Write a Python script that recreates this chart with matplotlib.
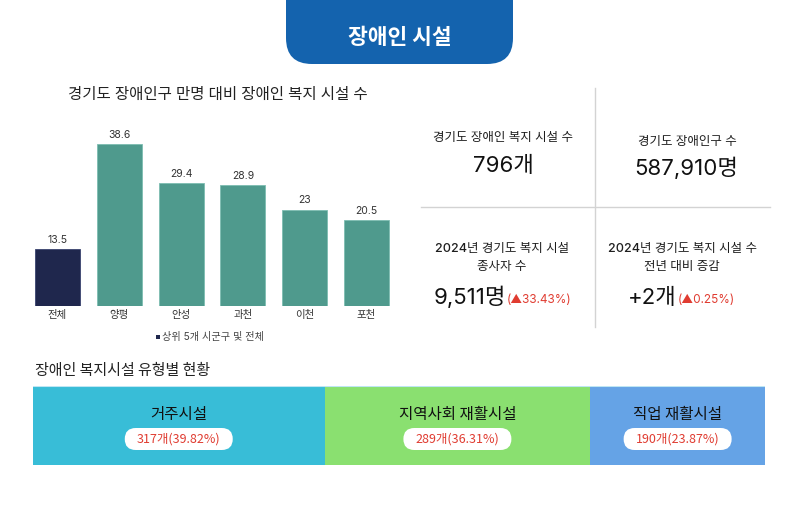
import matplotlib
matplotlib.use("Agg")
import matplotlib.pyplot as plt
from matplotlib.patches import FancyBboxPatch, Rectangle
import numpy as np

plt.rcParams['font.family'] = ['Inter', 'Noto Sans CJK KR', 'DejaVu Sans']
KR = ['Noto Sans CJK KR', 'DejaVu Sans']

# ---------------- data ----------------
categories = ['전체', '양평', '안성', '과천', '이천', '포천']
values = [13.5, 38.6, 29.4, 28.9, 23, 20.5]
bar_colors = ['#1F274D', '#4F9A8D', '#4F9A8D', '#4F9A8D', '#4F9A8D', '#4F9A8D']

type_names = ['거주시설', '지역사회 재활시설', '직업 재활시설']
type_counts = [317, 289, 190]
type_pcts = ['39.82%', '36.31%', '23.87%']
type_colors = ['#38BDD7', '#8AE070', '#65A3E6']

kpi_labels = ['경기도 장애인 복지 시설 수', '경기도 장애인구 수',
              '2024년 경기도 복지 시설\n종사자 수', '2024년 경기도 복지 시설 수\n전년 대비 증감']
kpi_values = ['796개', '587,910명', '9,511명', '+2개']
kpi_changes = ['', '', '(▲33.43%)', '(▲0.25%)']

W, H = 800, 531
fig = plt.figure(figsize=(W / 100, H / 100), dpi=100)
fig.patch.set_facecolor('white')

def fax(l, t, r, b):
    return [l / W, (H - b) / H, (r - l) / W, (b - t) / H]

# background / overlay axes in pixel coordinates
bg = fig.add_axes([0, 0, 1, 1])
bg.set_xlim(0, W); bg.set_ylim(H, 0); bg.axis('off')

# header tab
bg.add_patch(FancyBboxPatch((286, -40), 227, 104,
                            boxstyle='round,pad=0,rounding_size=26',
                            fc='#1463AE', ec='none'))
bg.text(400, 38, '장애인 시설', color='white', fontsize=15.5, fontweight='black',
        family=KR, ha='center', va='center')

# chart title
bg.text(218, 94, '경기도 장애인구 만명 대비 장애인 복지 시설 수', fontsize=11.2,
        color='#222222', fontweight='medium', ha='center', va='center')

# ---------------- bar chart ----------------
ax = fig.add_axes(fax(26.6, 117.4, 397.4, 306))
x = np.arange(len(categories))
ax.bar(x, values, width=0.73, color=bar_colors, edgecolor=['#3A4470'] + ['#7DBDB1'] * 5,
       linewidth=0.6)
ax.set_xlim(-0.5, len(categories) - 0.5)
ax.set_ylim(0, 45)
for xi, v in zip(x, values):
    ax.annotate(f'{v:g}', (xi, v), xytext=(0, 3), textcoords='offset points',
                ha='center', va='bottom', fontsize=7.5, color='#333333')
ax.set_xticks(x)
ax.set_xticklabels(categories, fontsize=7.5, color='#333333')
ax.tick_params(axis='x', length=0, pad=3)
ax.set_yticks([])
for s in ax.spines.values():
    s.set_visible(False)
ax.patch.set_alpha(0)

# legend
bg.add_patch(Rectangle((155.5, 334.5), 4, 4, fc='#1F274D', ec='none'))
bg.text(162, 337, '상위 5개 시군구 및 전체', fontsize=7.3, color='#444444',
        ha='left', va='center')

# ---------------- KPI panel ----------------
bg.plot([595, 595], [88, 327], color='#D3D3D3', lw=1)
bg.plot([421, 770], [207, 207], color='#D3D3D3', lw=1)

kw = dict(fontsize=9, color='#1E1E1E', fontweight='medium')
bg.text(503, 138.5, kpi_labels[0], ha='center', va='center', **kw)
bg.text(503, 166, kpi_values[0], fontsize=16, color='#111111', ha='center', va='center')
bg.text(687, 141.5, kpi_labels[1], ha='center', va='center', **kw)
bg.text(686, 168, kpi_values[1], fontsize=16, color='#111111', ha='center', va='center')

bg.text(502, 258, kpi_labels[2], ha='center', va='center', linespacing=1.75, **kw)
bg.text(506, 304, kpi_values[2], fontsize=16, color='#111111', ha='right', va='baseline')
bg.text(507, 303, kpi_changes[2], fontsize=8.5, color='#E03C31', ha='left', va='baseline')

bg.text(682, 258, kpi_labels[3], ha='center', va='center', linespacing=1.75, **kw)
bg.text(677, 304, kpi_values[3], fontsize=16, color='#111111', ha='right', va='baseline')
bg.text(678, 303, kpi_changes[3], fontsize=8.5, color='#E03C31', ha='left', va='baseline')

# ---------------- stacked type bar ----------------
bg.text(35, 371, '장애인 복지시설 유형별 현황', fontsize=10.8, color='#222222',
        family=KR, fontweight='medium', ha='left', va='center')

L, T, R, B = 33, 386, 765, 465
sx = fig.add_axes(fax(L, T, R, B))
total = sum(type_counts)
lefts = np.concatenate([[0], np.cumsum(type_counts)[:-1]])
sx.barh([0], type_counts, left=lefts, height=1, color=type_colors, edgecolor='none')
sx.set_xlim(0, total)
sx.set_ylim(-0.5, 0.5)
sx.axis('off')
sx.axhline(0.5, color='#BFE6F3', lw=1.5)

fg = fig.add_axes([0, 0, 1, 1])
fg.set_xlim(0, W); fg.set_ylim(H, 0); fg.axis('off'); fg.patch.set_alpha(0)
for name, cnt, pct, lf in zip(type_names, type_counts, type_pcts, lefts):
    cx = L + (R - L) * (lf + cnt / 2) / total
    fg.text(cx, 414, name, fontsize=11.2, color='#111111', family=KR,
            fontweight='medium', ha='center', va='center')
    fg.add_patch(FancyBboxPatch((cx - 54, 428), 108, 22,
                                boxstyle='round,pad=0,rounding_size=11',
                                fc='white', ec='none'))
    fg.text(cx, 439.5, f'{cnt}개({pct})', fontsize=9, color='#E03C31', family=KR,
            ha='center', va='center')

fig.savefig('out.png', dpi=100, facecolor='white')
